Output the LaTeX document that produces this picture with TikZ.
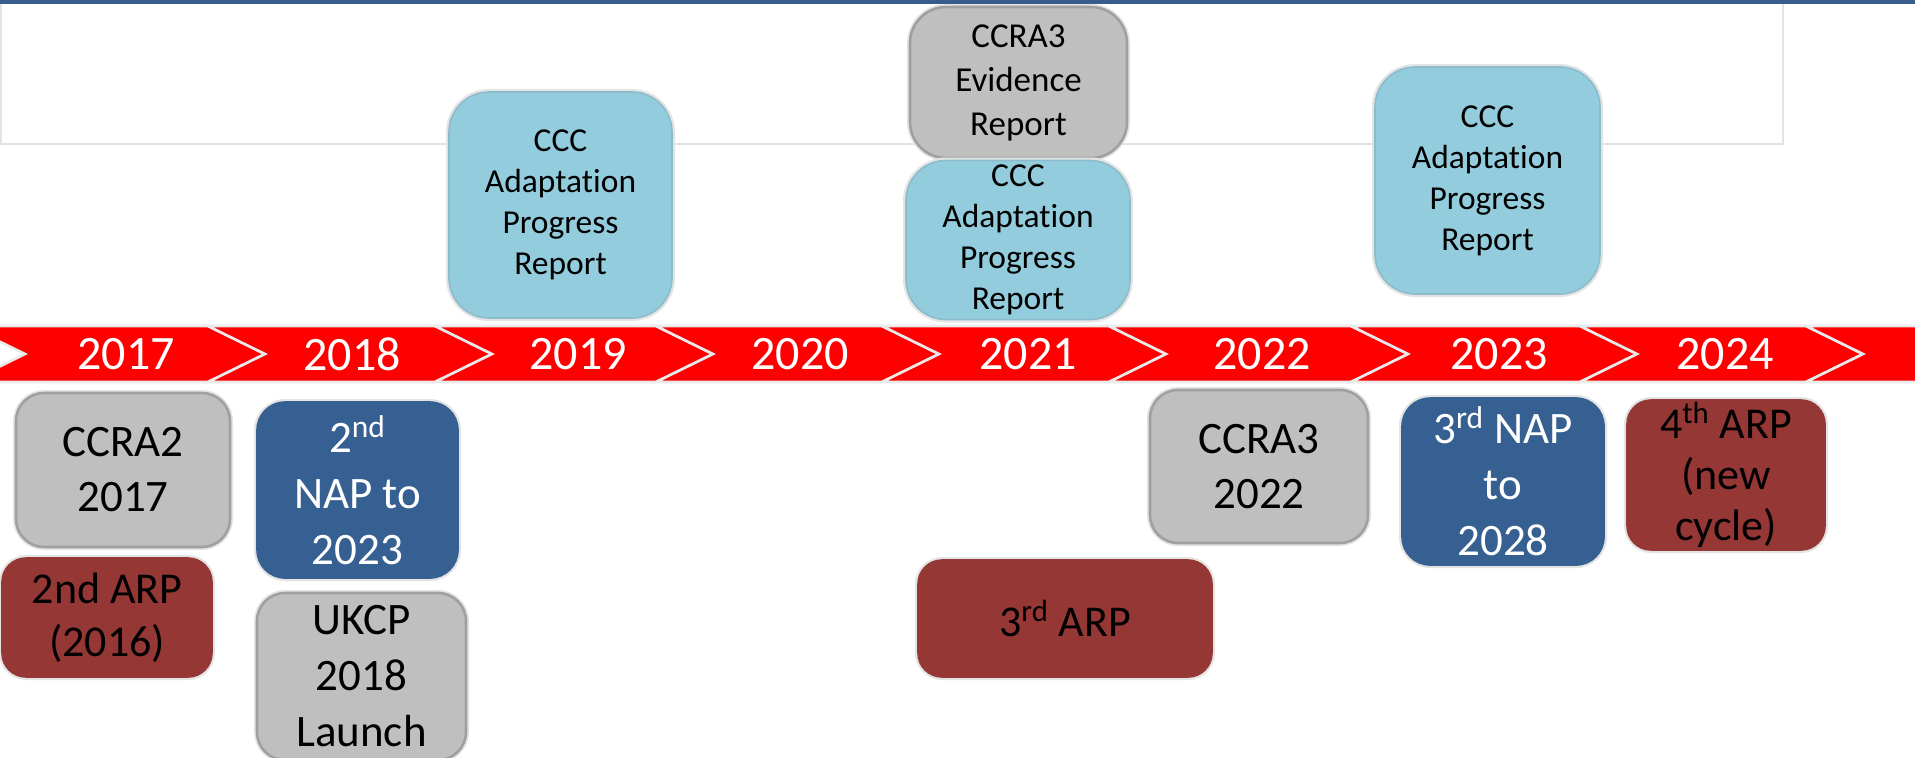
\documentclass[tikz,border=0pt]{standalone}
\usepackage{fontspec}
\setmainfont{Carlito}[Ligatures=CommonOff]
\definecolor{topblue}{HTML}{385D8A}
\definecolor{ribred}{HTML}{FF0000}
\definecolor{ribedge}{HTML}{EAEAEA}
\definecolor{ltblue}{HTML}{93CDDD}
\definecolor{ltblueedge}{HTML}{8CBCCB}
\definecolor{grayfill}{HTML}{BFBFBF}
\definecolor{grayedge}{HTML}{A0A0A0}
\definecolor{navy}{HTML}{376092}
\definecolor{maroon}{HTML}{953735}
\definecolor{halo}{HTML}{E4E4E4}
\definecolor{framegray}{HTML}{E2E2E2}
\newcommand{\adapt}{Adaptat\kern0pt ion}
\tikzset{
  box/.style={rounded corners=14pt, inner sep=0pt, align=center,
    preaction={draw=halo, line width=3pt}, line width=0.8pt},
  cccbox/.style={box, rounded corners=20pt, fill=ltblue, draw=ltblueedge,
    font=\fontsize{16.75}{20.5}\selectfont},
  evbox/.style={box, rounded corners=18pt, fill=grayfill, draw=grayedge, line width=1.3pt,
    font=\fontsize{17.5}{22}\selectfont},
  greybox/.style={box, fill=grayfill, draw=grayedge, line width=1.3pt,
    font=\fontsize{22.5}{27.5}\selectfont},
  navybox/.style={box, fill=navy, draw=navy, text=white,
    font=\fontsize{22.5}{28}\selectfont},
  redbox/.style={box, rounded corners=12pt, fill=maroon, draw=maroon,
    font=\fontsize{22}{26.5}\selectfont},
  chev/.style={fill=ribred, draw=ribedge, line width=1.3pt, line join=miter},
  year/.style={text=white, font=\fontsize{24}{28}\selectfont, inner sep=0pt},
}
\begin{document}
\begin{tikzpicture}[x=0.5pt,y=-0.5pt]
\clip (0,0) rectangle (1915,757);
\useasboundingbox (0,0) rectangle (1915,757);
\fill[white] (0,0) rectangle (1915,757);
% frame
\draw[framegray, line width=0.8pt] (1,3) rectangle (1783,144);
\fill[topblue] (0,0) rectangle (1915,3.5);
% ribbon chevrons
\def\d{57}
\foreach \a/\b in {-32/208, 208/435, 435/656, 656/882, 882/1109, 1109/1351, 1351/1580, 1580/1806, 1806/2050}{
  \draw[chev] (\a,326) -- (\b,326) -- (\b+\d,354) -- (\b,382) -- (\a,382) -- (\a+\d,354) -- cycle;
}
\node[year] (y17) at (126,354) {2017};
\node[year] (y18) at (352,354) {2018};
\node[year] (y19) at (578,354) {2019};
\node[year] (y20) at (800,354) {2020};
\node[year] (y21) at (1028,354) {2021};
\node[year] (y22) at (1262,354) {2022};
\node[year] (y23) at (1499,354) {2023};
\node[year] (y24) at (1725,354) {2024};
% upper boxes
\node[cccbox, minimum width=111.5pt, minimum height=113pt] (c19) at (560.5,205) {CCC\\\adapt\\Progress\\Report};
\node[evbox, minimum width=108.5pt, minimum height=75.5pt] (ev) at (1018.5,82.5) {CCRA3\\Evidence\\Report};
\node[cccbox, minimum width=112pt, minimum height=79.5pt] (c21) at (1018,240) {CCC\\\adapt\\Progress\\Report};
\node[cccbox, minimum width=112.5pt, minimum height=113.5pt] (c23) at (1487.5,180.5) {CCC\\\adapt\\Progress\\Report};
% lower boxes
\node[greybox, minimum width=107pt, minimum height=77pt] (ccra2) at (123,470) {CCRA2\\2017};
\node[redbox, minimum width=105pt, minimum height=59.5pt] (arp2) at (107,617.5) {2nd ARP\\(2016)};
\node[navybox, minimum width=100.5pt, minimum height=88pt] (nap2) at (357.5,490) {2\textsuperscript{nd}\\NAP to\\2023};
\node[greybox, minimum width=104.5pt, minimum height=83.5pt, font=\fontsize{22.5}{28}\selectfont] (ukcp) at (361.5,676.5) {UKCP\\2018\\Launch};
\node[greybox, minimum width=109pt, minimum height=76.5pt] (ccra3) at (1259,466.5) {CCRA3\\2022};
\node[redbox, minimum width=147pt, minimum height=58.5pt] (arp3) at (1065,618.5) {3\textsuperscript{rd} ARP};
\node[navybox, minimum width=101pt, minimum height=83.5pt] (nap3) at (1503,481.5) {3\textsuperscript{rd} NAP\\to\\2028};
\node[redbox, minimum width=99pt, minimum height=75pt, font=\fontsize{22}{25.5}\selectfont] (arp4) at (1726,475) {4\textsuperscript{th} ARP\\(new\\cycle)};
\end{tikzpicture}
\end{document}
